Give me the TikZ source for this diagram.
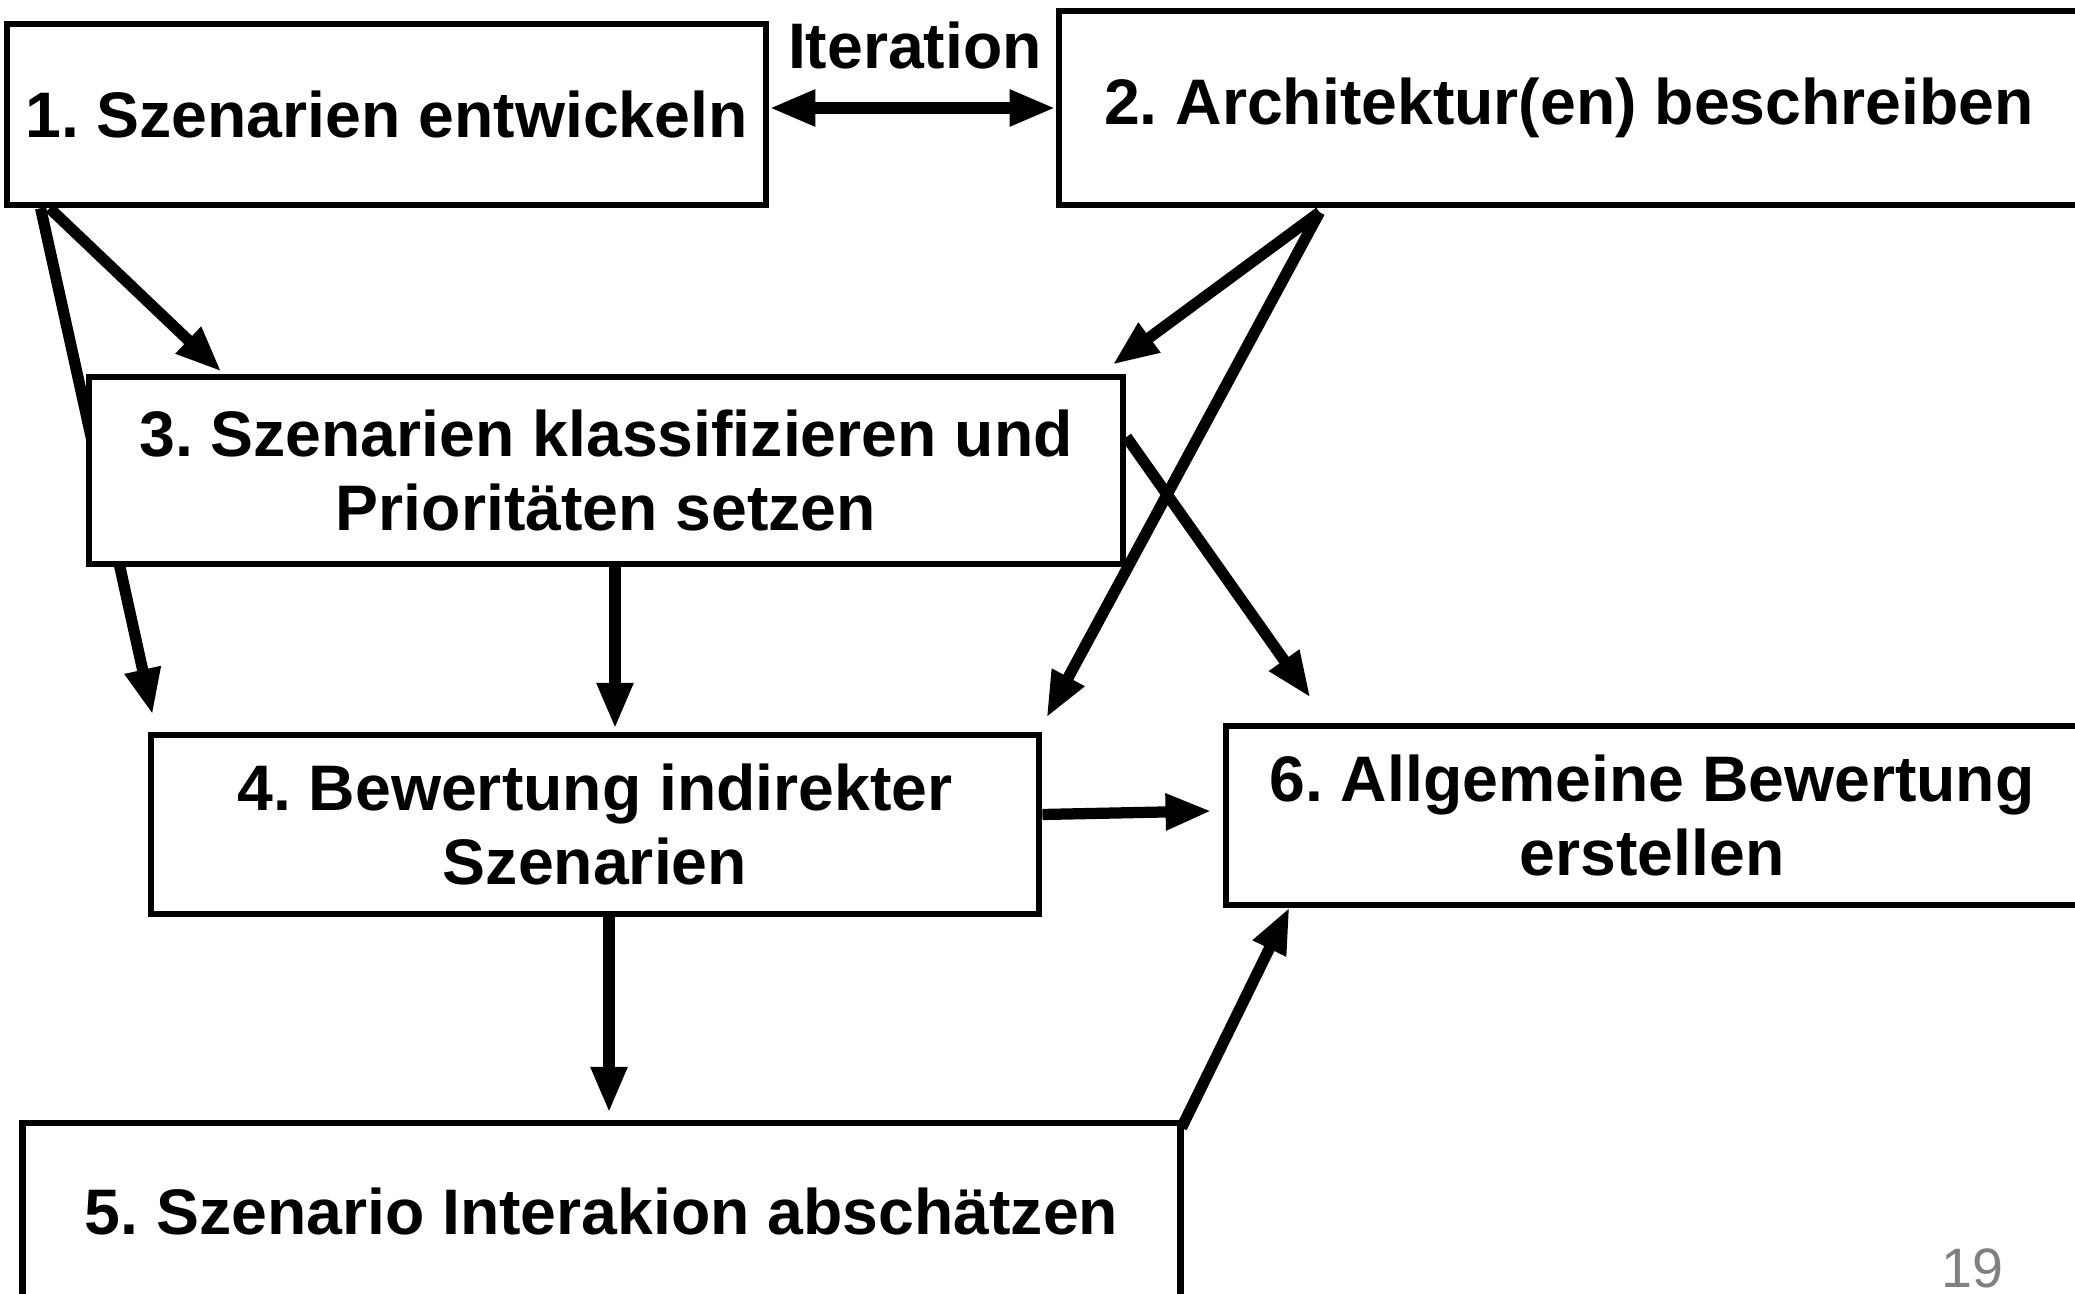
\documentclass[tikz,border=0pt]{standalone}
\usepackage{fontspec}
\setmainfont{Liberation Sans}
\usetikzlibrary{arrows.meta,calc}
\pgfdeclarelayer{bg}
\pgfsetlayers{bg,main}
\frenchspacing
\begin{document}
\begin{tikzpicture}[x=0.01cm,y=0.01cm,
  stepbox/.style={draw=black,fill=white,line width=1.8pt,inner sep=0pt,align=center,
    font=\fontsize{18.3}{21}\selectfont\bfseries},
  flow/.style={line width=3.2pt,-{Triangle[length=0.46cm,width=0.34cm]}},
  iter/.style={line width=3.2pt,{Triangle[length=0.46cm,width=0.34cm]}-{Triangle[length=0.46cm,width=0.34cm]}}]
\useasboundingbox (0,0) rectangle (2075,-1294);

% process steps
\node[stepbox,minimum width=7.59cm,minimum height=1.81cm] (b1) at (386.5,-114.5) {1. Szenarien entwickeln};
\node[stepbox,minimum width=10.20cm,minimum height=1.94cm] (b2) at (1569,-108) {2. Architektur(en) beschreiben};
\node[stepbox,minimum width=10.34cm,minimum height=1.87cm] (b3) at (606,-470.5) {3. Szenarien klassifizieren und\\Prioritäten setzen};
\node[stepbox,minimum width=8.88cm,minimum height=1.79cm] (b4) at (595,-824.5) {4. Bewertung indirekter\\Szenarien};
\node[stepbox,minimum width=8.52cm,minimum height=1.79cm] (b6) at (1652,-815.5) {6. Allgemeine Bewertung\\erstellen};
\node[stepbox,minimum width=11.57cm,minimum height=1.76cm] (b5) at (601.5,-1211) {5. Szenario Interakion abschätzen};

\node[font=\fontsize{18.3}{21}\selectfont\bfseries,inner sep=0pt] (it) at (915,-46) {Iteration};
\node[font=\fontsize{15.8}{18}\selectfont,text=black!50,inner sep=0pt] (pg) at (1972,-1268) {19};

% connectors, kept behind the boxes
\begin{pgfonlayer}{bg}
\draw[iter] (b1.east |- b2.west) -- (b2.west);
\draw[flow] ($(b1.south west)+(46,0)$) -- ($(b3.north west)+(136,2)$);
\draw[flow] ($(b1.south west)+(37,0)$) -- ($(b4.north west)+(5,17)$);
\draw[flow] ($(b2.south west)+(264,-4)$) -- ($(b3.north east)+(-14,9)$);
\draw[flow] ($(b2.south west)+(264,-4)$) -- ($(b4.north east)+(4,14)$);
\draw[flow] ($(b3.south)+(9,0)$) -- ($(b4.north)+(20,3)$);
\draw[flow] ($(b3.east)+(0,33.5)$) -- ($(b6.north west)+(88,25)$);
\draw[flow] ($(b4.east)+(0,10)$) -- ($(b6.west)+(-11,4.5)$);
\draw[flow] ($(b4.south)+(14,0)$) -- ($(b5.north)+(7.5,7)$);
\draw[flow] ($(b5.north east)+(-2,-8)$) -- ($(b6.south west)+(67,1)$);
\end{pgfonlayer}
\end{tikzpicture}
\end{document}
